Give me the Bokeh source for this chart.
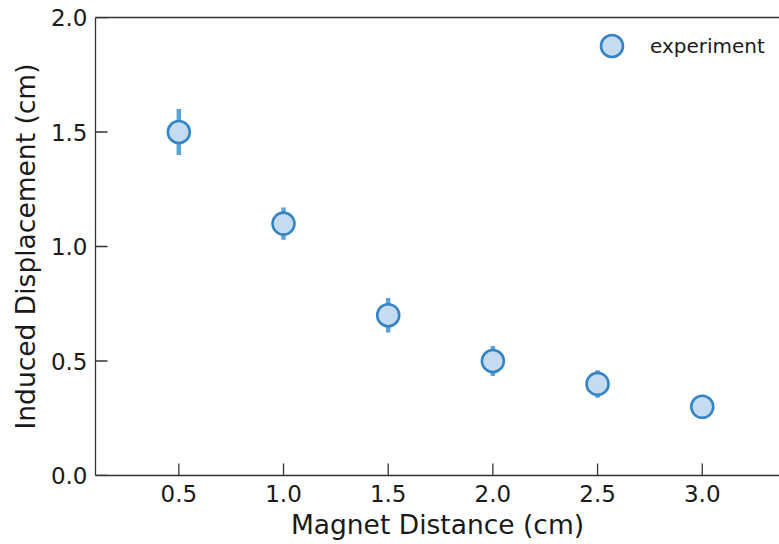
from bokeh.plotting import figure
from bokeh.models import (ColumnDataSource, LinearAxis, FixedTicker,
                          PrintfTickFormatter, Range1d, Legend, LegendItem)
from bokeh.embed import file_html
from bokeh.resources import INLINE

# Measured induced displacement versus magnet distance
distance_cm = [0.5, 1.0, 1.5, 2.0, 2.5, 3.0]
displacement_cm = [1.5, 1.1, 0.7, 0.5, 0.4, 0.3]
uncertainty_cm = [0.10, 0.07, 0.075, 0.065, 0.06, 0.03]

x_ticks = [0.5, 1.0, 1.5, 2.0, 2.5, 3.0]
y_ticks = [0.0, 0.5, 1.0, 1.5, 2.0]

X_MIN, X_MAX = 0.102, 3.369
Y_MIN, Y_MAX = 0.0, 2.0
FRAME_W, FRAME_H = 684, 458
TICK_LEN_PX = 12

low = [d - u for d, u in zip(displacement_cm, uncertainty_cm)]
high = [d + u for d, u in zip(displacement_cm, uncertainty_cm)]
src = ColumnDataSource(dict(x=distance_cm, y=displacement_cm, lo=low, hi=high))

FONT = "DejaVu Sans"
AXIS_COLOR = "#333333"
TEXT_COLOR = "#1a1a1a"

p = figure(width=779, height=544, output_backend="svg", toolbar_location=None,
           x_range=Range1d(X_MIN, X_MAX), y_range=Range1d(Y_MIN, Y_MAX),
           min_border_left=95, min_border_right=0, min_border_top=17,
           min_border_bottom=69, x_axis_label="Magnet Distance (cm)",
           y_axis_label="Induced Displacement (cm)")
p.outline_line_color = None
p.grid.visible = False
p.background_fill_color = "white"
p.border_fill_color = "white"

# inward tick marks (drawn inside the frame)
dy = TICK_LEN_PX * (Y_MAX - Y_MIN) / FRAME_H
dx = TICK_LEN_PX * (X_MAX - X_MIN) / FRAME_W
p.segment(x0=x_ticks, y0=[Y_MIN] * len(x_ticks), x1=x_ticks,
          y1=[Y_MIN + dy] * len(x_ticks), line_color=AXIS_COLOR, line_width=1.3)
p.segment(x0=[X_MIN] * len(y_ticks), y0=y_ticks, x1=[X_MIN + dx] * len(y_ticks),
          y1=y_ticks, line_color=AXIS_COLOR, line_width=1.3)

# error bars
p.segment(x0="x", y0="lo", x1="x", y1="hi", source=src,
          line_color="#5ba3d9", line_width=4.5)
# measurement points
pts = p.scatter(x="x", y="y", source=src, size=22, marker="circle",
                fill_color="#c6dbef", line_color="#3585c6", line_width=2.6)

for ax, ticks in ((p.xaxis[0], x_ticks), (p.yaxis[0], y_ticks)):
    ax.ticker = FixedTicker(ticks=ticks)
    ax.formatter = PrintfTickFormatter(format="%.1f")
    ax.major_tick_in = 0
    ax.major_tick_out = 0
    ax.minor_tick_line_color = None
    ax.axis_line_color = AXIS_COLOR
    ax.axis_line_width = 1.3
    ax.major_label_text_font = FONT
    ax.major_label_text_font_size = "23px"
    ax.major_label_text_color = TEXT_COLOR
    ax.axis_label_text_font = FONT
    ax.axis_label_text_font_size = "26.5px"
    ax.axis_label_text_font_style = "normal"
    ax.axis_label_text_color = TEXT_COLOR

p.xaxis[0].major_label_standoff = 9
p.xaxis[0].axis_label_standoff = 4
p.yaxis[0].major_label_standoff = 8
p.yaxis[0].axis_label_standoff = 7

# top spine without ticks
top = LinearAxis(ticker=FixedTicker(ticks=[]), major_tick_in=0, major_tick_out=0,
                 minor_tick_line_color=None, axis_line_color=AXIS_COLOR,
                 axis_line_width=1.3, major_label_text_font_size="0px")
p.add_layout(top, "above")

# legend: the marker box is enlarged so the legend circle matches the data markers
lg = Legend(items=[LegendItem(label="experiment", renderers=[pts])],
            location=(489, FRAME_H - 56), border_line_color=None,
            background_fill_alpha=0, label_text_font=FONT,
            label_text_font_size="20px", label_text_color=TEXT_COLOR,
            glyph_width=55, glyph_height=55, label_standoff=11,
            margin=0, padding=0)
p.add_layout(lg, "center")

open("out.html", "w").write(file_html(p, INLINE))
